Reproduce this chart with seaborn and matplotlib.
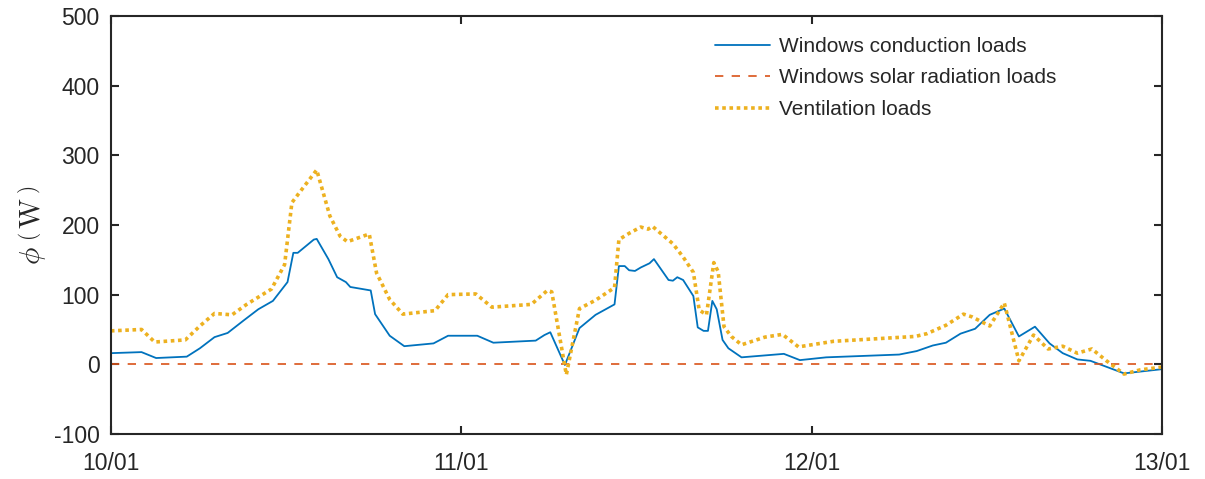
import numpy as np
import pandas as pd
import matplotlib
matplotlib.use("Agg")
import matplotlib.pyplot as plt
import matplotlib.dates as mdates
import seaborn as sns

# data (hours since 10/01 00:00, W)
cond_hours = [0, 2.1, 3.1, 5.2, 6.1, 7.1, 8.0, 9.1, 10.1, 11.1, 12.1, 12.5, 12.8, 13.9, 14.1,
              14.9, 15.5, 16.1, 16.4, 17.8, 18.1, 19.1, 20.1, 22.1, 23.1, 25.1, 26.2, 29.1,
              29.7, 30.1, 31.1, 32.1, 33.2, 34.5, 34.8, 35.2, 35.5, 35.9, 36.3, 36.9, 37.2,
              38.2, 38.5, 38.8, 39.2, 39.9, 40.2, 40.6, 40.9, 41.2, 41.5, 41.9, 42.3, 43.2,
              46.1, 47.2, 49.0, 54.0, 55.2, 56.3, 57.2, 58.2, 59.2, 60.2, 61.2, 62.2, 63.3,
              64.3, 65.2, 66.2, 67.1, 69.4, 72.0]
cond_loads = [16, 17.5, 9, 11, 23, 39, 45, 63, 79, 91, 118, 160, 160, 179, 180,
              151, 125, 118, 111, 106, 72, 41, 26, 30, 41, 41, 31, 34,
              42, 46, -1, 52, 71, 86, 141, 141, 135, 134, 139, 145, 151,
              121, 120, 125, 121, 98, 53, 48, 48, 91, 79, 35, 23, 10,
              15, 6, 10, 14, 19, 27, 31, 44, 51, 71, 80, 40, 54,
              30, 16, 7, 5, -13, -7]

vent_hours = [0, 2.1, 3.0, 5.1, 6.1, 7.1, 8.3, 9.3, 11.0, 11.9, 12.4, 12.9, 14.1, 15.0,
              15.7, 16.2, 17.7, 18.2, 19.1, 20.0, 22.2, 23.1, 25.0, 26.1, 28.8, 29.9, 30.2,
              31.2, 32.1, 33.2, 34.5, 34.8, 35.5, 36.3, 36.8, 37.1, 38.5, 39.2, 39.9, 40.3,
              40.8, 41.3, 41.6, 42.0, 42.5, 43.2, 44.8, 46.0, 47.1, 49.5, 55.1, 55.9, 57.2,
              58.4, 59.0, 60.2, 61.2, 62.2, 63.2, 64.2, 65.2, 66.2, 67.2, 68.2, 69.4, 70.5,
              72.0]
vent_loads = [48, 50, 32, 35, 55, 73, 71, 86, 108, 143, 232, 246, 279, 213,
              184, 176, 187, 131, 93, 72, 77, 100, 101, 82, 86, 106, 104,
              -15, 80, 92, 110, 179, 188, 197, 194, 198, 173, 154, 132, 78,
              71, 146, 133, 54, 40, 28, 39, 43, 25, 33, 40, 44, 56,
              72, 68, 55, 88, 5, 42, 22, 26, 16, 22, 5, -14, -8,
              -4]

solar_hours = list(range(0, 73))
solar_loads = [0] * 73

start = pd.Timestamp("2021-01-10")


def to_df(hours, loads):
    return pd.DataFrame({"time": start + pd.to_timedelta(hours, unit="h"), "load": loads})


sns.set_theme(style="white")
plt.rcParams["font.family"] = ["Liberation Sans", "DejaVu Sans"]
plt.rcParams["mathtext.fontset"] = "cm"
plt.rcParams["axes.unicode_minus"] = False

fig = plt.figure(figsize=(12.05, 4.79), dpi=100)
ax = fig.add_axes([0.092, 0.094, 0.8723, 0.8727])

sns.lineplot(data=to_df(cond_hours, cond_loads), x="time", y="load", ax=ax,
             color="#0072BD", linewidth=1.3, label="Windows conduction loads")
sns.lineplot(data=to_df(solar_hours, solar_loads), x="time", y="load", ax=ax,
             color="#D95319", linewidth=1.2, linestyle=(0, (5, 5)),
             label="Windows solar radiation loads")
sns.lineplot(data=to_df(vent_hours, vent_loads), x="time", y="load", ax=ax,
             color="#EDB120", linewidth=2.6, linestyle=(0, (1, 1)),
             label="Ventilation loads")

ax.set_xlim(start, start + pd.Timedelta(days=3))
ax.set_ylim(-100, 500)
ax.set_yticks(np.arange(-100, 501, 100))
ax.xaxis.set_major_locator(mdates.DayLocator())
ax.xaxis.set_major_formatter(mdates.DateFormatter("%d/%m"))

ax.set_xlabel("")
ax.set_ylabel(r"$\phi\;\left(\,\mathrm{W}\,\right)$", fontsize=21, labelpad=4)

for s in ax.spines.values():
    s.set_color("#262626")
    s.set_linewidth(1.5)
ax.tick_params(direction="in", length=6, width=1.5, color="#262626",
               labelsize=16.5, labelcolor="#262626", top=True, right=True,
               bottom=True, left=True)
ax.tick_params(axis="x", pad=13)
ax.tick_params(axis="y", pad=8)

leg = ax.legend(loc="upper left", bbox_to_anchor=(0.575, 0.95), frameon=False,
                borderaxespad=0, borderpad=0,
                fontsize=15, handlelength=2.65, handletextpad=0.43, labelspacing=0.6)

fig.savefig("out.png", dpi=100)
